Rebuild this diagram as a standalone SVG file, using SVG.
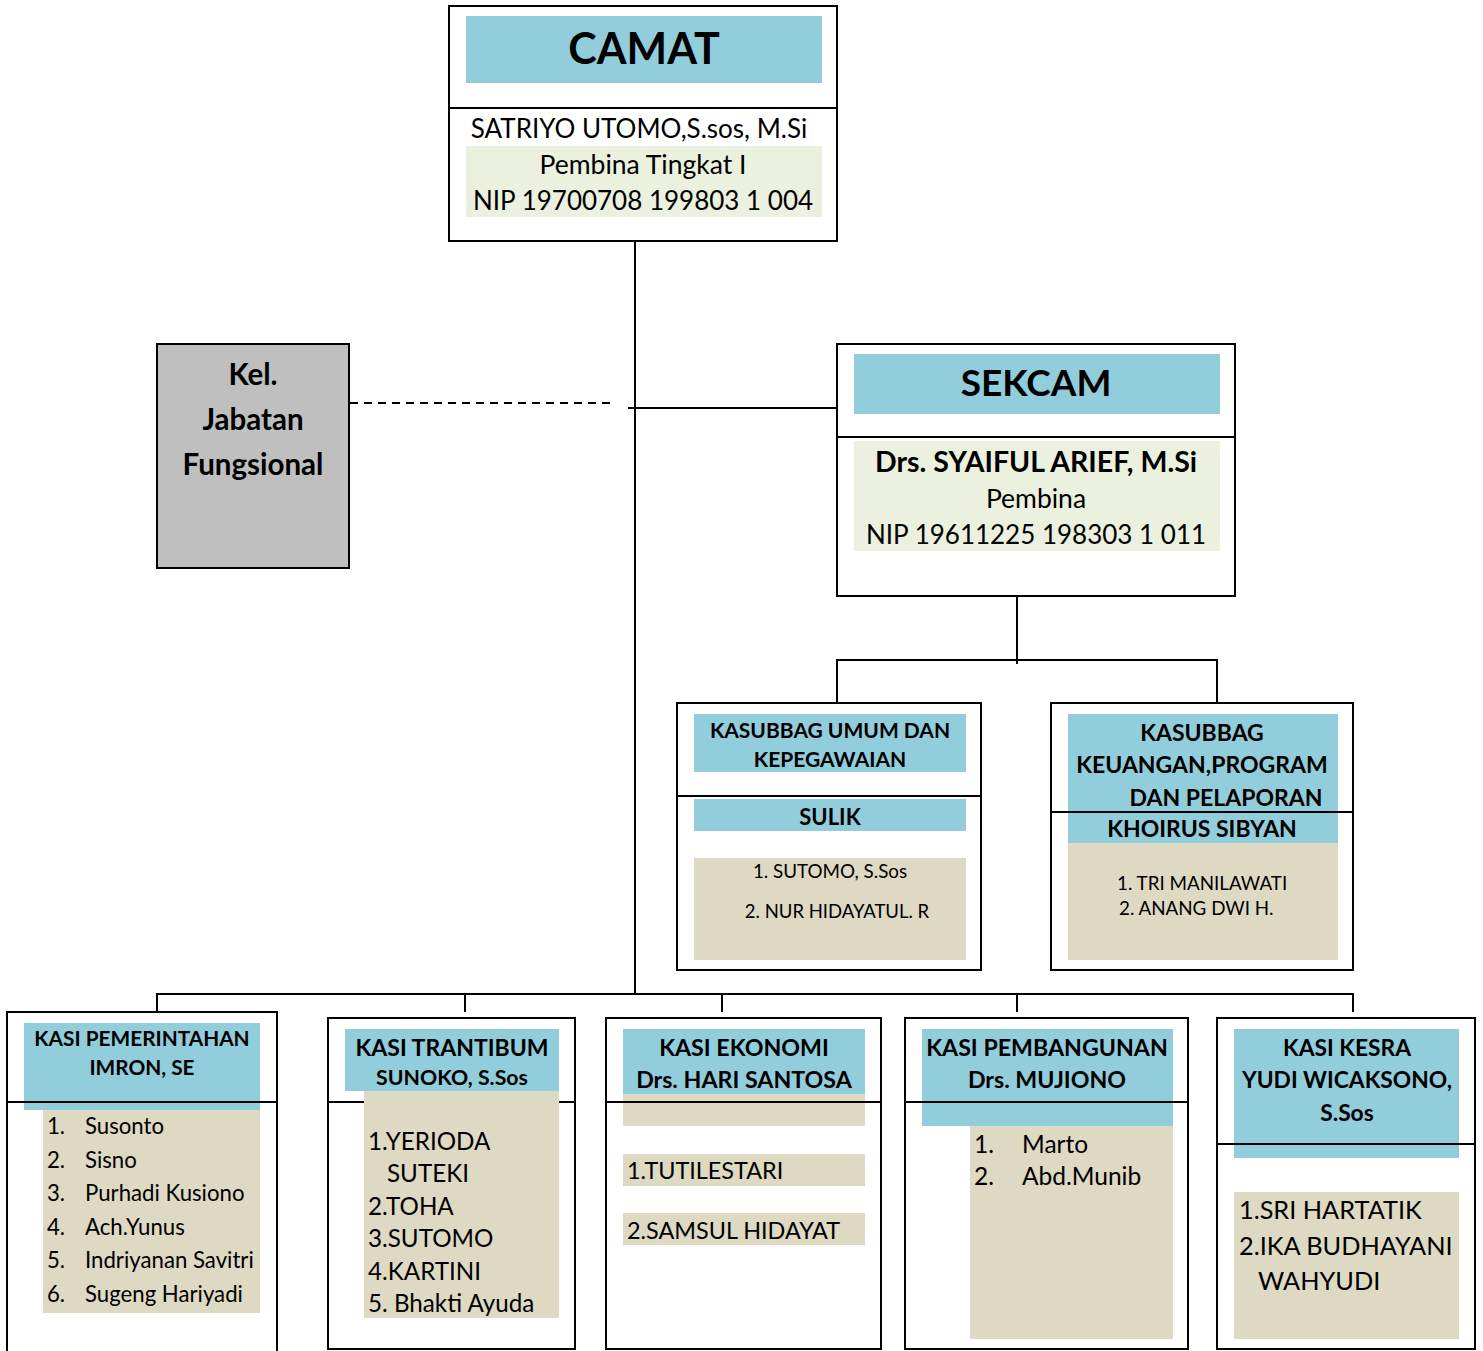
<svg xmlns="http://www.w3.org/2000/svg" width="1483" height="1351" viewBox="0 0 1483 1351">
<style>
text{font-family:Lato,"Open Sans","Liberation Sans",sans-serif;fill:#000}
.b{font-weight:bold}
.c{text-anchor:middle}
.box{fill:#fff;stroke:#000;stroke-width:2}
.blue{fill:#92cddc}
.green{fill:#ebf1de}
.tan{fill:#ddd9c3}
.ln{stroke:#000;stroke-width:2;fill:none}
</style>
<rect x="0" y="0" width="1483" height="1351" fill="#fff"/>
<g id="connectors">
<line class="ln" x1="635" y1="235" x2="635" y2="995"/>
<line class="ln" x1="350" y1="403" x2="612" y2="403" stroke-dasharray="8,6"/>
<line class="ln" x1="628" y1="408" x2="837" y2="408"/>
<line class="ln" x1="1017" y1="590" x2="1017" y2="664"/>
<polyline class="ln" points="837,703 837,660 1217,660 1217,703"/>
<line class="ln" x1="156" y1="994" x2="1354" y2="994"/>
<line class="ln" x1="157" y1="994" x2="157" y2="1012"/>
<line class="ln" x1="465" y1="994" x2="465" y2="1012"/>
<line class="ln" x1="722" y1="994" x2="722" y2="1012"/>
<line class="ln" x1="1017" y1="994" x2="1017" y2="1012"/>
<line class="ln" x1="1353" y1="994" x2="1353" y2="1012"/>
</g>
<g id="camat">
<rect class="box" x="449" y="6" width="388" height="235"/>
<line class="ln" x1="449" y1="108" x2="837" y2="108"/>
<rect class="blue" x="466" y="16" width="356" height="67"/>
<text class="b c" x="644" y="64" font-size="43">CAMAT</text>
<rect class="green" x="466" y="146" width="356" height="71"/>
<text class="c" x="639" y="138" font-size="26">SATRIYO UTOMO,S.sos, M.Si</text>
<text class="c" x="643" y="174" font-size="26.5">Pembina Tingkat I</text>
<text class="c" x="643" y="210" font-size="26">NIP 19700708 199803 1 004</text>
</g>
<g id="kel-jabatan">
<rect x="157" y="344" width="192" height="224" fill="#bfbfbf" stroke="#000" stroke-width="2"/>
<text class="b c" x="253" y="385" font-size="29.5">Kel.</text>
<text class="b c" x="253" y="430" font-size="29.5">Jabatan</text>
<text class="b c" x="253" y="475" font-size="29.5">Fungsional</text>
</g>
<g id="sekcam">
<rect class="box" x="837" y="344" width="398" height="252"/>
<line class="ln" x1="837" y1="437" x2="1235" y2="437"/>
<rect class="blue" x="854" y="354" width="366" height="60"/>
<text class="b c" x="1036" y="396" font-size="37">SEKCAM</text>
<rect class="green" x="854" y="441" width="366" height="110"/>
<text class="b c" x="1036" y="472" font-size="28.5">Drs. SYAIFUL ARIEF, M.Si</text>
<text class="c" x="1036" y="508" font-size="26.5">Pembina</text>
<text class="c" x="1036" y="544" font-size="26">NIP 19611225 198303 1 011</text>
</g>
<g id="kasubbag-umum">
<rect class="box" x="677" y="703" width="304" height="267"/>
<line class="ln" x1="677" y1="796" x2="981" y2="796"/>
<rect class="blue" x="694" y="714" width="272" height="58"/>
<text class="b c" x="830" y="738" font-size="21">KASUBBAG UMUM DAN</text>
<text class="b c" x="830" y="767" font-size="21">KEPEGAWAIAN</text>
<rect class="blue" x="694" y="799" width="272" height="32"/>
<text class="b c" x="830" y="825" font-size="22">SULIK</text>
<rect class="tan" x="694" y="858" width="272" height="102"/>
<text class="c" x="830" y="878" font-size="18.8">1. SUTOMO, S.Sos</text>
<text class="c" x="837" y="918" font-size="18.5">2. NUR HIDAYATUL. R</text>
</g>
<g id="kasubbag-keuangan">
<rect class="box" x="1051" y="703" width="302" height="267"/>
<rect class="blue" x="1068" y="714" width="270" height="129"/>
<line class="ln" x1="1051" y1="812" x2="1353" y2="812"/>
<text class="b c" x="1202" y="741" font-size="23">KASUBBAG</text>
<text class="b c" x="1202" y="773" font-size="23">KEUANGAN,PROGRAM</text>
<text class="b c" x="1226" y="806" font-size="23">DAN PELAPORAN</text>
<text class="b c" x="1202" y="837" font-size="23">KHOIRUS SIBYAN</text>
<rect class="tan" x="1068" y="843" width="270" height="117"/>
<text x="1117" y="890" font-size="18.8">1. TRI MANILAWATI</text>
<text x="1119" y="915" font-size="18.8">2. ANANG DWI H.</text>
</g>
<g id="kasi-pemerintahan">
<rect class="box" x="7" y="1012" width="270" height="345"/>
<rect class="blue" x="24" y="1023" width="236" height="87"/>
<line class="ln" x1="7" y1="1102" x2="277" y2="1102"/>
<text class="b c" x="142" y="1046" font-size="20.8">KASI PEMERINTAHAN</text>
<text class="b c" x="142" y="1075" font-size="20.8">IMRON, SE</text>
<rect class="tan" x="43" y="1110" width="217" height="203"/>
<g font-size="22.2">
<text x="47" y="1134">1.</text><text x="85" y="1134">Susonto</text>
<text x="47" y="1168">2.</text><text x="85" y="1168">Sisno</text>
<text x="47" y="1201">3.</text><text x="85" y="1201">Purhadi Kusiono</text>
<text x="47" y="1235">4.</text><text x="85" y="1235">Ach.Yunus</text>
<text x="47" y="1268">5.</text><text x="85" y="1268">Indriyanan Savitri</text>
<text x="47" y="1302">6.</text><text x="85" y="1302">Sugeng Hariyadi</text>
</g>
</g>
<g id="kasi-trantibum">
<rect class="box" x="328" y="1018" width="247" height="331"/>
<line class="ln" x1="328" y1="1102" x2="575" y2="1102"/>
<rect class="blue" x="345" y="1029" width="214" height="62"/>
<text class="b c" x="452" y="1056" font-size="23">KASI TRANTIBUM</text>
<text class="b c" x="452" y="1085" font-size="21.3">SUNOKO, S.Sos</text>
<rect class="tan" x="364" y="1091" width="195" height="227"/>
<g font-size="24.2">
<text x="368" y="1150">1.YERIODA</text>
<text x="387" y="1182">SUTEKI</text>
<text x="368" y="1215">2.TOHA</text>
<text x="368" y="1247">3.SUTOMO</text>
<text x="368" y="1280">4.KARTINI</text>
<text x="368" y="1312">5. Bhakti Ayuda</text>
</g>
</g>
<g id="kasi-ekonomi">
<rect class="box" x="606" y="1018" width="275" height="331"/>
<rect class="blue" x="623" y="1029" width="242" height="65"/>
<rect class="tan" x="623" y="1094" width="242" height="32"/>
<line class="ln" x1="606" y1="1102" x2="881" y2="1102"/>
<text class="b c" x="744" y="1056" font-size="23.2">KASI EKONOMI</text>
<text class="b c" x="744" y="1088" font-size="23.2">Drs. HARI SANTOSA</text>
<rect class="tan" x="623" y="1154" width="242" height="32"/>
<text x="627" y="1179" font-size="23.4">1.TUTILESTARI</text>
<rect class="tan" x="623" y="1213" width="242" height="32"/>
<text x="627" y="1239" font-size="23.4">2.SAMSUL HIDAYAT</text>
</g>
<g id="kasi-pembangunan">
<rect class="box" x="905" y="1018" width="283" height="331"/>
<rect class="blue" x="922" y="1029" width="251" height="97"/>
<line class="ln" x1="905" y1="1102" x2="1188" y2="1102"/>
<text class="b c" x="1047" y="1056" font-size="23.2">KASI PEMBANGUNAN</text>
<text class="b c" x="1047" y="1088" font-size="23.2">Drs. MUJIONO</text>
<rect class="tan" x="970" y="1126" width="203" height="213"/>
<g font-size="24.5">
<text x="974" y="1153">1.</text><text x="1022" y="1153">Marto</text>
<text x="974" y="1185">2.</text><text x="1022" y="1185">Abd.Munib</text>
</g>
</g>
<g id="kasi-kesra">
<rect class="box" x="1217" y="1018" width="258" height="331"/>
<rect class="blue" x="1234" y="1029" width="225" height="129"/>
<line class="ln" x1="1217" y1="1144" x2="1475" y2="1144"/>
<text class="b c" x="1347" y="1056" font-size="22.8">KASI KESRA</text>
<text class="b c" x="1347" y="1088" font-size="22.8">YUDI WICAKSONO,</text>
<text class="b c" x="1347" y="1121" font-size="22.8">S.Sos</text>
<rect class="tan" x="1234" y="1192" width="225" height="147"/>
<g font-size="25.3">
<text x="1239" y="1219">1.SRI HARTATIK</text>
<text x="1239" y="1255">2.IKA BUDHAYANI</text>
<text x="1258" y="1290">WAHYUDI</text>
</g>
</g>
</svg>
